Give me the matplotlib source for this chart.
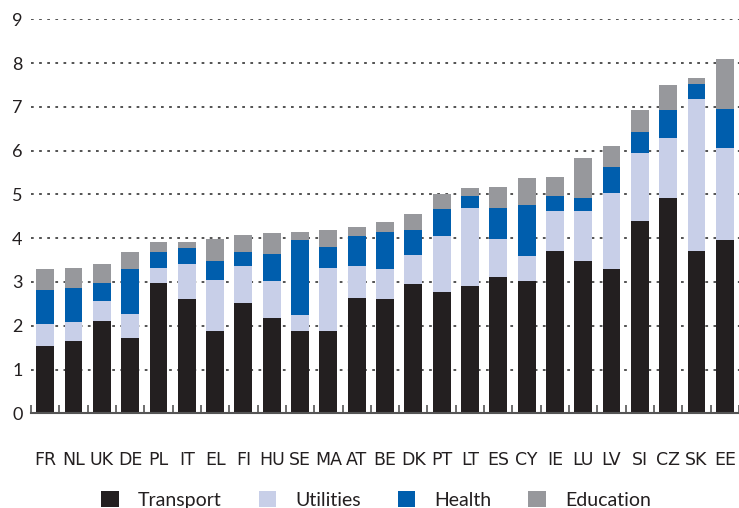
import numpy as np
import matplotlib
matplotlib.use("Agg")
import matplotlib.pyplot as plt
from matplotlib.patches import Patch

countries = ["FR", "NL", "UK", "DE", "PL", "IT", "EL", "FI", "HU", "SE", "MA", "AT", "BE",
             "DK", "PT", "LT", "ES", "CY", "IE", "LU", "LV", "SI", "CZ", "SK", "EE"]
transport = [1.54, 1.65, 2.11, 1.72, 2.98, 2.61, 1.88, 2.52, 2.18, 1.88, 1.88, 2.64, 2.61,
             2.96, 2.77, 2.91, 3.11, 3.02, 3.71, 3.48, 3.30, 4.39, 4.92, 3.71, 3.96]
utilities = [0.50, 0.44, 0.46, 0.55, 0.34, 0.80, 1.17, 0.85, 0.84, 0.37, 1.44, 0.73, 0.69,
             0.66, 1.28, 1.78, 0.87, 0.57, 0.91, 1.14, 1.73, 1.56, 1.37, 3.47, 2.10]
health = [0.78, 0.77, 0.41, 1.03, 0.37, 0.37, 0.43, 0.32, 0.62, 1.71, 0.48, 0.68, 0.84,
          0.57, 0.62, 0.28, 0.71, 1.17, 0.35, 0.30, 0.60, 0.48, 0.64, 0.34, 0.89]
education = [0.48, 0.46, 0.43, 0.39, 0.22, 0.13, 0.50, 0.38, 0.48, 0.18, 0.39, 0.21, 0.23,
             0.36, 0.34, 0.18, 0.48, 0.62, 0.43, 0.91, 0.48, 0.50, 0.57, 0.14, 1.15]

series = [("Transport", transport, "#231f20"),
          ("Utilities", utilities, "#c8cfe8"),
          ("Health", health, "#005ead"),
          ("Education", education, "#97989c")]

plt.rcParams['font.family'] = ['Lato', 'DejaVu Sans']

fig = plt.figure(figsize=(7.39, 5.08), dpi=100)
ax = fig.add_axes([31 / 739, 1 - 413.3 / 508, 1 - 31 / 739, (413.3 - 19.3) / 508])

x = np.arange(len(countries))
bottom = np.zeros(len(countries))
for name, vals, col in series:
    vals = np.array(vals)
    ax.bar(x, vals, 0.63, bottom=bottom, color=col, zorder=3)
    bottom += vals

ax.set_ylim(0, 9)
ax.set_xlim(-0.5, 24.36)
ax.set_yticks(range(10))
ax.yaxis.grid(True, color="#444444", linestyle=(0, (1.5, 3)), linewidth=1.3, zorder=0)
ax.set_axisbelow(True)

for s in ["top", "right", "left"]:
    ax.spines[s].set_visible(False)
ax.spines["bottom"].set_color("#555555")
ax.spines["bottom"].set_linewidth(1.5)
ax.spines["bottom"].set_zorder(4)

ax.tick_params(axis="y", length=0, pad=6, labelsize=13, labelcolor="#231f20")
ax.set_xticks(x)
ax.set_xticklabels(countries, fontfamily=['Liberation Sans Narrow', 'DejaVu Sans'],
                   fontsize=12.5, color="#231f20")
ax.tick_params(axis="x", which="major", length=0, pad=27)
ax.set_xticks(np.arange(-0.5, 25, 1.0), minor=True)
ax.tick_params(axis="x", which="minor", direction="in", length=5.5, width=1.2, color="#555555")

handles = [Patch(facecolor=c, label=n) for n, _, c in series]
fig.legend(handles=handles, loc="center", bbox_to_anchor=(0.509, 8 / 508),
           ncol=4, frameon=False, fontsize=14, handlelength=0.88, handleheight=0.88,
           columnspacing=1.9, handletextpad=1.0, labelcolor="#231f20",
           borderpad=0, borderaxespad=0)

fig.savefig("out.png", dpi=100)
